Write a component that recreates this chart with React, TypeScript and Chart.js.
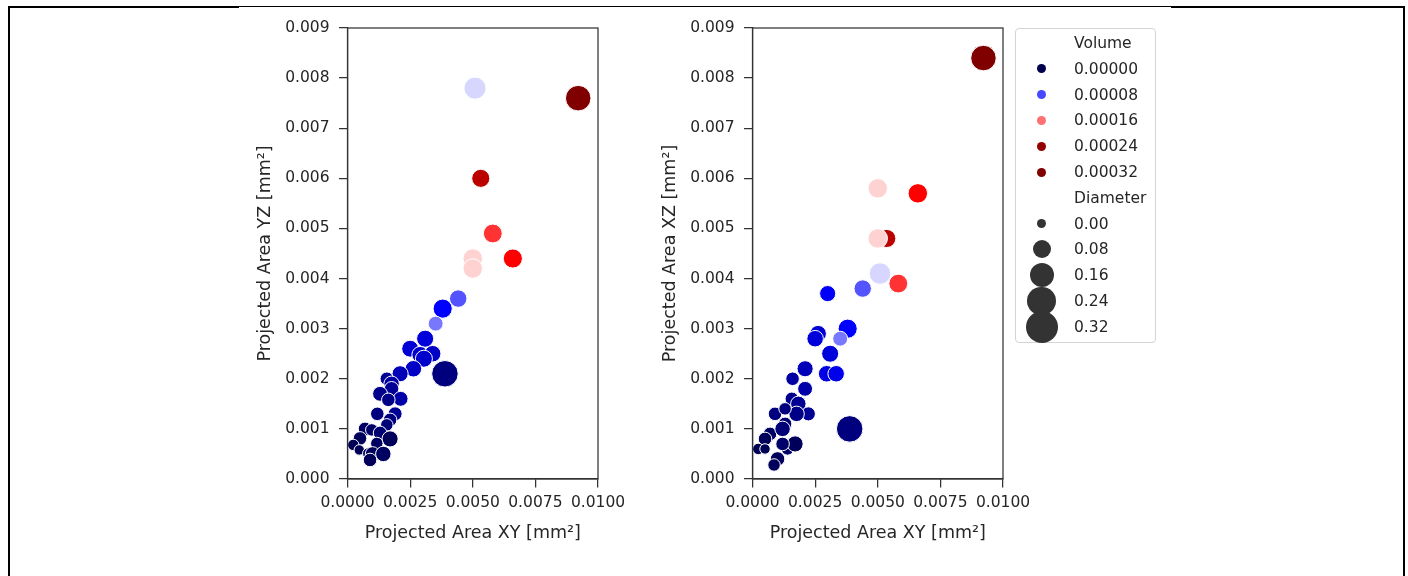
import React, { useEffect, useRef } from "react";
import { Chart, registerables } from "chart.js";

Chart.register(...registerables);

// ---- Panel A: Projected Area XY vs YZ ----
const xyA = [0.00509, 0.00921, 0.00532, 0.0058, 0.005, 0.005, 0.0066, 0.00442, 0.0038, 0.00352, 0.0031, 0.0025, 0.0029, 0.0034, 0.00305, 0.00263, 0.00389, 0.0021, 0.00157, 0.00176, 0.00176, 0.0013, 0.00212, 0.00163, 0.00119, 0.0019, 0.0017, 0.00157, 0.0007, 0.00097, 0.0013, 0.0017, 0.0005, 0.00023, 0.00117, 0.00047, 0.00083, 0.001, 0.00143, 0.0009];
const yzA = [0.0078, 0.0076, 0.006, 0.0049, 0.0044, 0.0042, 0.0044, 0.0036, 0.0034, 0.0031, 0.0028, 0.0026, 0.00248, 0.0025, 0.0024, 0.0022, 0.0021, 0.0021, 0.002, 0.0019, 0.0018, 0.0017, 0.0016, 0.00158, 0.0013, 0.0013, 0.00118, 0.00108, 0.001, 0.00098, 0.00092, 0.0008, 0.00081, 0.00068, 0.00071, 0.00058, 0.00051, 0.0005, 0.0005, 0.00038];
const volA = [0.000115, 0.00034, 0.000221, 0.000175, 0.000136, 0.000136, 0.0001875, 0.000083, 0.0000625, 0.000092, 0.00005, 0.0000475, 0.000045, 0.0000425, 0.000045, 0.0000425, 0.0000175, 0.0000375, 0.000025, 0.00003, 0.000025, 0.0000225, 0.0000325, 0.00002, 0.0000175, 0.000025, 0.0000175, 0.000015, 0.0000075, 0.00001, 0.0000125, 0.000005, 0.000005, 0.0000025, 0.0000075, 0.0000025, 0.000005, 0.000005, 0.0000075, 0.000005];
const diaA = [0.11, 0.159, 0.063, 0.071, 0.078, 0.078, 0.074, 0.056, 0.074, 0.032, 0.052, 0.05, 0.047, 0.047, 0.052, 0.047, 0.175, 0.043, 0.021, 0.037, 0.029, 0.032, 0.032, 0.021, 0.021, 0.025, 0.021, 0.013, 0.021, 0.013, 0.021, 0.043, 0.021, 0.006, 0.013, 0.0, 0.006, 0.029, 0.037, 0.021];

// ---- Panel B: Projected Area XY vs XZ ----
const xyB = [0.00922, 0.005, 0.0066, 0.00536, 0.005, 0.00509, 0.00582, 0.0044, 0.003, 0.0038, 0.0035, 0.00262, 0.0025, 0.0031, 0.00296, 0.00334, 0.0021, 0.0021, 0.0016, 0.00388, 0.00157, 0.00183, 0.00223, 0.00176, 0.0009, 0.0013, 0.0013, 0.0007, 0.0012, 0.0005, 0.0014, 0.0017, 0.0012, 0.00023, 0.0005, 0.001, 0.00086];
const xzB = [0.0084, 0.0058, 0.0057, 0.0048, 0.0048, 0.0041, 0.0039, 0.0038, 0.0037, 0.003, 0.0028, 0.0029, 0.0028, 0.0025, 0.0021, 0.0021, 0.0022, 0.0018, 0.002, 0.001, 0.0016, 0.0015, 0.0013, 0.0013, 0.0013, 0.0014, 0.0011, 0.0009, 0.001, 0.0008, 0.0006, 0.0007, 0.0007, 0.0006, 0.0006, 0.0004, 0.00028];
const volB = [0.00034, 0.000136, 0.0001875, 0.000221, 0.000136, 0.000115, 0.000175, 0.000083, 0.00006, 0.0000625, 0.000092, 0.0000475, 0.00005, 0.00005, 0.0000525, 0.000055, 0.0000375, 0.0000325, 0.00003, 0.0000175, 0.0000225, 0.000025, 0.000025, 0.00002, 0.0000175, 0.0000175, 0.0000125, 0.0000075, 0.000015, 0.000005, 0.00001, 0.000005, 0.00001, 0.0000025, 0.0000025, 0.000005, 0.000005];
const diaB = [0.159, 0.078, 0.078, 0.063, 0.078, 0.103, 0.071, 0.056, 0.043, 0.074, 0.032, 0.047, 0.047, 0.052, 0.047, 0.047, 0.043, 0.032, 0.021, 0.175, 0.021, 0.037, 0.025, 0.037, 0.021, 0.013, 0.021, 0.021, 0.037, 0.021, 0.013, 0.043, 0.021, 0.006, 0.0, 0.029, 0.013];

// ---- Ticks and legend entries ----
const xTicks = [0, 0.0025, 0.005, 0.0075, 0.01];
const yTicks = [0, 0.001, 0.002, 0.003, 0.004, 0.005, 0.006, 0.007, 0.008, 0.009];
const volumeLegend = [0, 0.00008, 0.00016, 0.00024, 0.00032];
const diameterLegend = [0, 0.08, 0.16, 0.24, 0.32];

const FONT = "'DejaVu Sans', sans-serif";
const TEXT = "#262626";
const AXIS = "#333333";
const VMAX = 0.00025;

const STOPS: number[][] = [
  [0, 0, 0, 0.3],
  [0.25, 0, 0, 1],
  [0.5, 1, 1, 1],
  [0.75, 1, 0, 0],
  [1, 0.5, 0, 0],
];

function seismic(v: number): string {
  const t = Math.max(0, Math.min(1, v / VMAX));
  for (let i = 0; i < STOPS.length - 1; i++) {
    const a = STOPS[i];
    const b = STOPS[i + 1];
    if (t <= b[0]) {
      const f = (t - a[0]) / (b[0] - a[0]);
      const c = [1, 2, 3].map((k) => Math.round(255 * (a[k] + (b[k] - a[k]) * f)));
      return `rgb(${c[0]},${c[1]},${c[2]})`;
    }
  }
  return "rgb(128,0,0)";
}

function radius(d: number): number {
  return Math.sqrt(Math.min(256, 20 + 780 * d));
}

const boxPlugin = {
  id: "box",
  afterDraw(chart: any) {
    const { ctx, chartArea } = chart;
    ctx.save();
    ctx.strokeStyle = AXIS;
    ctx.lineWidth = 1.25;
    ctx.strokeRect(chartArea.left, chartArea.top, chartArea.right - chartArea.left, chartArea.bottom - chartArea.top);
    ctx.restore();
  },
};

function makeConfig(xs: number[], ys: number[], vols: number[], dias: number[], yTitle: string): any {
  return {
    type: "scatter",
    data: {
      datasets: [
        {
          data: xs.map((x, i) => ({ x, y: ys[i] })),
          pointBackgroundColor: vols.map(seismic),
          pointRadius: dias.map((d) => radius(d) + 0.75),
          pointBorderColor: "#ffffff",
          pointBorderWidth: 1,
          clip: false,
        },
      ],
    },
    options: {
      animation: false,
      responsive: false,
      devicePixelRatio: 1,
      events: [],
      layout: { padding: { left: 0, right: 42, top: 28, bottom: 0 } },
      plugins: { legend: { display: false }, tooltip: { enabled: false } },
      scales: {
        x: {
          type: "linear",
          min: 0,
          max: 0.01,
          afterFit: (s: any) => {
            s.height = 97;
          },
          afterBuildTicks: (s: any) => {
            s.ticks = xTicks.map((v) => ({ value: v }));
          },
          ticks: {
            callback: (v: any) => Number(v).toFixed(4),
            autoSkip: false,
            maxRotation: 0,
            font: { family: FONT, size: 15.5 },
            color: TEXT,
            padding: 6,
          },
          grid: { drawOnChartArea: false, drawTicks: true, tickLength: 8.5, color: AXIS, lineWidth: 1.25 },
          border: { display: true, color: AXIS, width: 1.25 },
          title: {
            display: true,
            text: "Projected Area XY [mm²]",
            font: { family: FONT, size: 17.5 },
            color: TEXT,
            padding: { top: 0, bottom: 32.5 },
          },
        },
        y: {
          type: "linear",
          min: 0,
          max: 0.009,
          afterFit: (s: any) => {
            s.width = 107.5;
          },
          afterBuildTicks: (s: any) => {
            s.ticks = yTicks.map((v) => ({ value: v }));
          },
          ticks: {
            callback: (v: any) => Number(v).toFixed(3),
            autoSkip: false,
            font: { family: FONT, size: 15.5 },
            color: TEXT,
            padding: 9.5,
          },
          grid: { drawOnChartArea: false, drawTicks: true, tickLength: 8.5, color: AXIS, lineWidth: 1.25 },
          border: { display: true, color: AXIS, width: 1.25 },
          title: {
            display: true,
            text: yTitle,
            font: { family: FONT, size: 17.5 },
            color: TEXT,
            padding: { top: 14.5, bottom: 0 },
          },
        },
      },
    },
    plugins: [boxPlugin],
  };
}

function Panel({ left, xs, ys, vols, dias, yTitle }: any) {
  const ref = useRef<HTMLCanvasElement>(null);
  useEffect(() => {
    if (!ref.current) return;
    const chart = new Chart(ref.current, makeConfig(xs, ys, vols, dias, yTitle));
    return () => chart.destroy();
  }, []);
  return <canvas ref={ref} width={400} height={576} style={{ position: "absolute", left, top: 0, width: 400, height: 576 }} />;
}

const ROW0 = 43;
const ROWH = 25.8;

function Legend() {
  const rows: any[] = [];
  const textStyle = (i: number): React.CSSProperties => ({
    position: "absolute",
    left: 1074,
    top: ROW0 + i * ROWH - 10,
    height: 20,
    lineHeight: "20px",
    fontFamily: FONT,
    fontSize: 15.5,
    color: TEXT,
    whiteSpace: "nowrap",
  });
  const dot = (i: number, r: number, color: string, key: string) => (
    <div
      key={key}
      style={{
        position: "absolute",
        left: 1041.7 - r,
        top: ROW0 + i * ROWH - r,
        width: 2 * r,
        height: 2 * r,
        borderRadius: "50%",
        background: color,
      }}
    />
  );
  rows.push(<div key="vt" style={textStyle(0)}>Volume</div>);
  volumeLegend.forEach((v, k) => {
    rows.push(dot(k + 1, 4.5, seismic(v), "vd" + k));
    rows.push(<div key={"vl" + k} style={textStyle(k + 1)}>{v.toFixed(5)}</div>);
  });
  rows.push(<div key="dt" style={textStyle(6)}>Diameter</div>);
  diameterLegend.forEach((d, k) => {
    rows.push(dot(k + 7, radius(d), "#333333", "dd" + k));
    rows.push(<div key={"dl" + k} style={textStyle(k + 7)}>{d.toFixed(2)}</div>);
  });
  return (
    <>
      <div
        style={{
          position: "absolute",
          left: 1015,
          top: 28,
          width: 141,
          height: 315,
          boxSizing: "border-box",
          border: "1px solid #d4d4d4",
          borderRadius: 4,
          background: "#fff",
        }}
      />
      {rows}
    </>
  );
}

export default function App() {
  return (
    <div style={{ position: "absolute", left: 0, top: 0, width: 1408, height: 576, background: "#fff", overflow: "hidden" }}>
      <div style={{ position: "absolute", left: 8, top: 6, width: 2, height: 570, background: "#000" }} />
      <div style={{ position: "absolute", left: 1403, top: 6, width: 2, height: 570, background: "#000" }} />
      <div style={{ position: "absolute", left: 8, top: 6, width: 231, height: 2, background: "#000" }} />
      <div style={{ position: "absolute", left: 239, top: 6, width: 932, height: 1, background: "#000" }} />
      <div style={{ position: "absolute", left: 1171, top: 6, width: 234, height: 2, background: "#000" }} />
      <Panel left={240} xs={xyA} ys={yzA} vols={volA} dias={diaA} yTitle="Projected Area YZ [mm²]" />
      <Panel left={645} xs={xyB} ys={xzB} vols={volB} dias={diaB} yTitle="Projected Area XZ [mm²]" />
      <Legend />
    </div>
  );
}
